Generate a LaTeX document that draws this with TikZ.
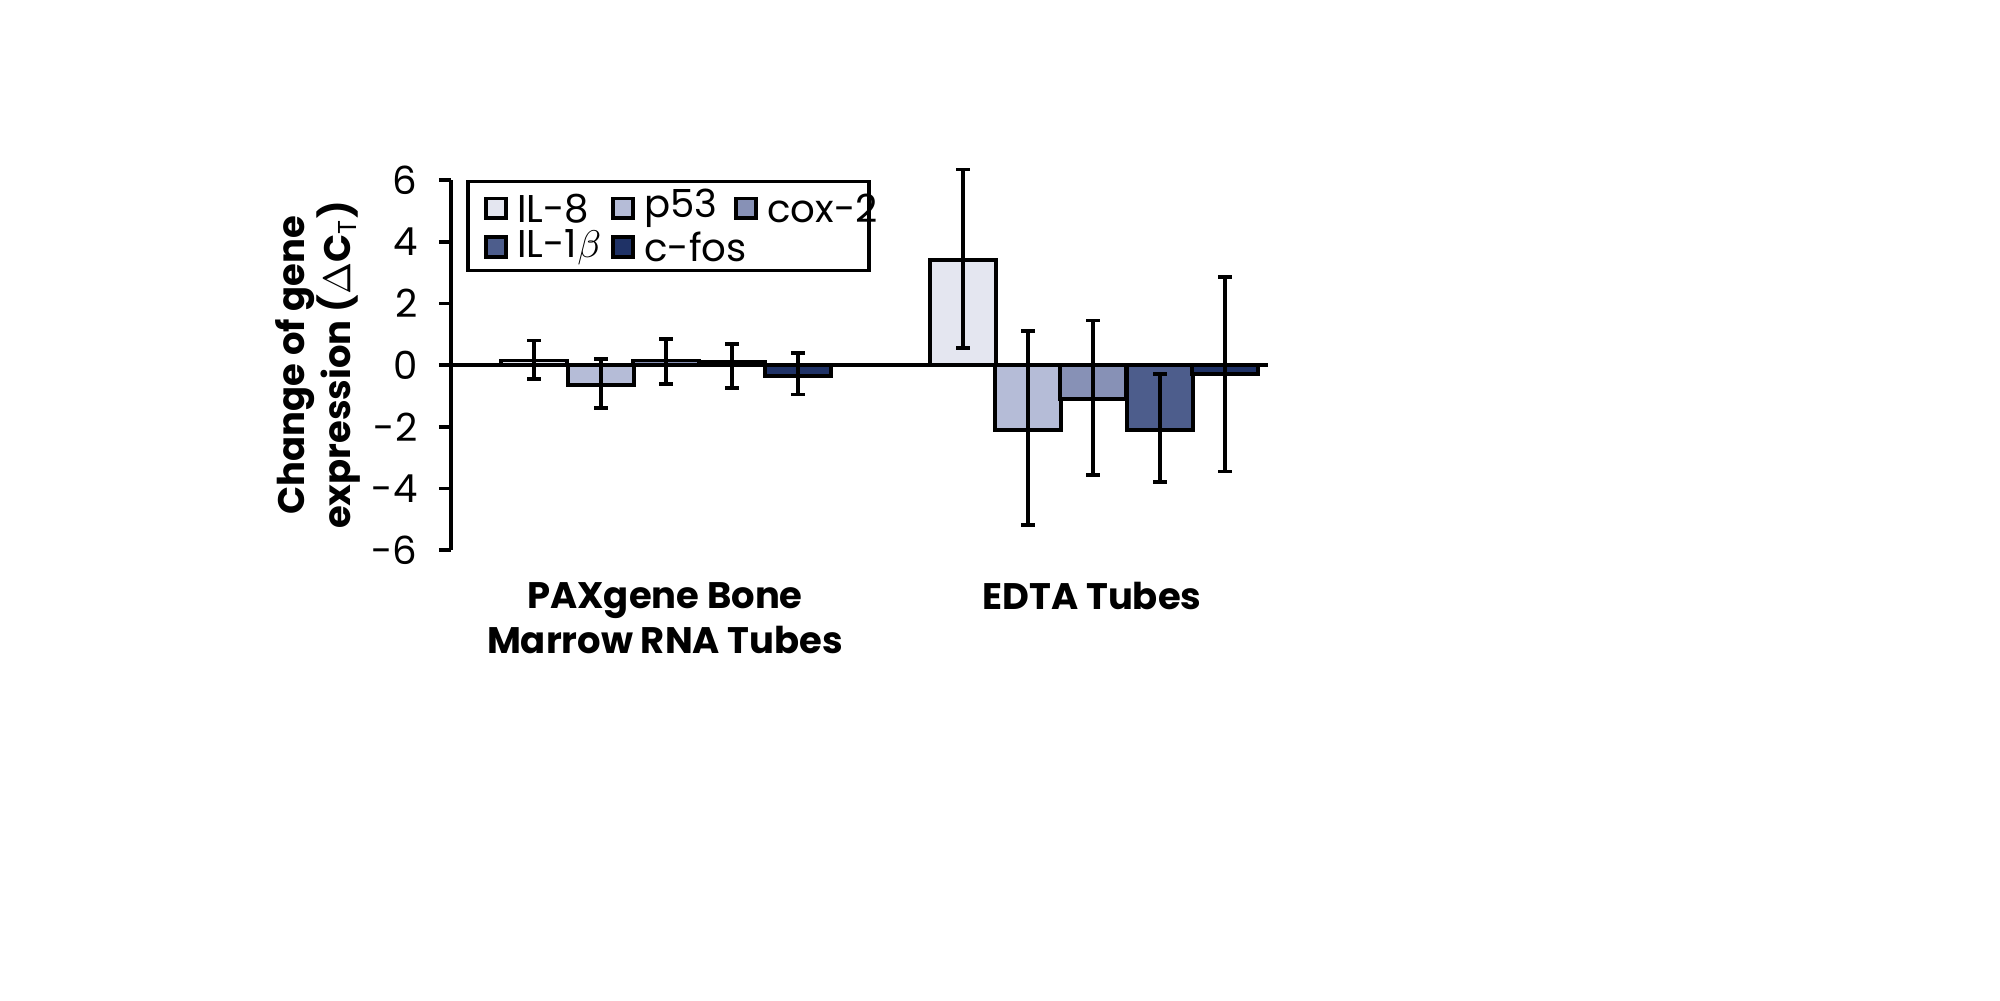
\documentclass[tikz,border=0pt]{standalone}
\usepackage{fontspec}
\setmainfont{Poppins}
\definecolor{cA}{HTML}{E4E6F0}
\definecolor{cB}{HTML}{B5BCD7}
\definecolor{cC}{HTML}{8791B6}
\definecolor{cD}{HTML}{4D5D8C}
\definecolor{cE}{HTML}{1F3266}
\begin{document}
\begin{tikzpicture}[x=0.01cm, y=0.308cm, line width=1.1pt,
    bar/.style={draw=black, line width=1.1pt},
    tick/.style={font=\fontsize{11}{13}\selectfont, anchor=east},
    axislabel/.style={font=\fontsize{10.5}{13}\selectfont\bfseries, align=center}]

    % PAXgene bars: start/colour/value/upper/lower
    \foreach \xs/\col/\val/\hi/\lo in {50/cA/0.15/0.8/-0.45, 117/cB/-0.65/0.2/-1.4,
        182/cC/0.15/0.85/-0.6, 248/cD/0.1/0.7/-0.75, 314/cE/-0.35/0.4/-0.95}{
        \draw[bar, fill=\col] (\xs,0) rectangle (\xs+66,\val);
        \draw (\xs+33,\lo) -- (\xs+33,\hi);
        \draw (\xs+26,\lo) -- (\xs+40,\lo);
        \draw (\xs+26,\hi) -- (\xs+40,\hi);
    }
    % EDTA bars
    \foreach \xs/\col/\val/\hi/\lo in {479/cA/3.4/6.35/0.55, 544/cB/-2.1/1.1/-5.2,
        609/cC/-1.1/1.45/-3.55, 676/cD/-2.1/-0.3/-3.8, 741/cE/-0.3/2.85/-3.45}{
        \draw[bar, fill=\col] (\xs,0) rectangle (\xs+66,\val);
        \draw (\xs+33,\lo) -- (\xs+33,\hi);
        \draw (\xs+26,\lo) -- (\xs+40,\lo);
        \draw (\xs+26,\hi) -- (\xs+40,\hi);
    }

    % Axes
    \draw (0,-6) -- (0,6);
    \draw (0,0) -- (817,0);
    \foreach \tk/\lab in {-6/-6,-4/-4,-2/-2,0/0,2/2,4/4,6/6}{
        \draw (-12,\tk) -- (0,\tk);
        \node[tick] (tick\tk) at (-20,\tk) {\lab};
    }

    % Axis labels
    \node[axislabel, rotate=90] (ylabel) at (-133,0) {Change of gene\\expression ($\Delta$C$_\mathrm{T}$)};
    \node[axislabel, anchor=north] (paxlabel) at (214,-6.6) {PAXgene Bone\\Marrow RNA Tubes};
    \node[axislabel, anchor=north] (edtalabel) at (641,-6.6) {EDTA Tubes};

    % Legend
    \draw[bar, fill=white] (17,5.96) rectangle (418,3.07);
    \foreach \xs/\yy/\col/\lab/\nm in {35/5.09/cA/IL-8/il8, 162/5.09/cB/p53/p53,
        285/5.09/cC/cox-2/cox2, 35/3.83/cD/IL-1$\beta$/il1b, 162/3.83/cE/c-fos/cfos}{
        \draw[bar, fill=\col] (\xs,\yy-0.32) rectangle (\xs+20,\yy+0.32);
        \node[anchor=west, inner sep=1pt, font=\fontsize{11}{13}\selectfont] (leg\nm) at (\xs+26,\yy) {\lab};
    }

    % Canvas
    \pgfresetboundingbox
    \path[use as bounding box] (-451,-20.62) rectangle (1549,11.85);
\end{tikzpicture}
\end{document}
